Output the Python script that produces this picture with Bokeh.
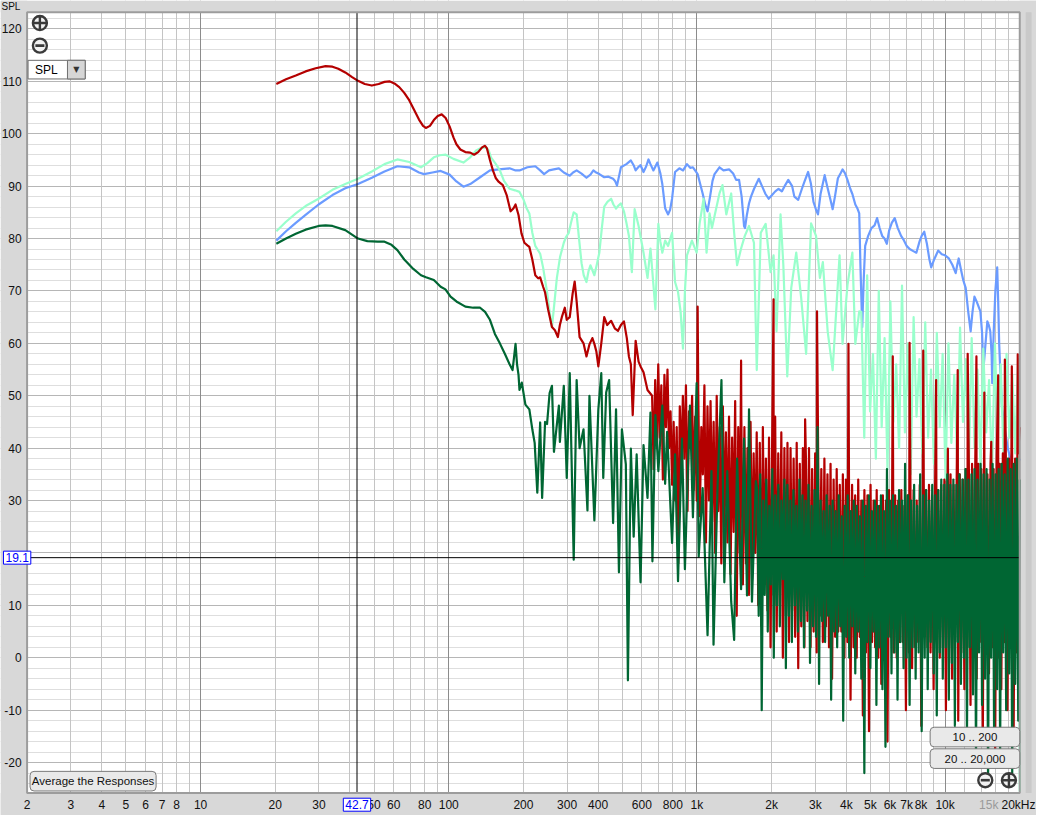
import numpy as np
from bokeh.plotting import figure
from bokeh.models import FixedTicker, Label, BoxAnnotation, Grid
from bokeh.core.properties import value
from bokeh.embed import file_html
from bokeh.resources import INLINE

FONT = "Liberation Sans"

# ---------------- axis data ----------------
x_ticks = [2, 3, 4, 5, 6, 7, 8, 10, 20, 30, 50, 60, 80, 100, 200, 300, 400, 600, 800,
           1000, 2000, 3000, 4000, 5000, 6000, 7000, 8000, 10000, 15000]
x_tick_labels = ["2", "3", "4", "5", "6", "7", "8", "10", "20", "30", "50", "60", "80", "100",
                 "200", "300", "400", "600", "800", "1k", "2k", "3k", "4k", "5k", "6k", "7k",
                 "8k", "10k", "15k"]
x_last_label = "20kHz"
y_ticks = [-20, -10, 0, 10, 30, 40, 50, 60, 70, 80, 90, 100, 110, 120]
y_tick_labels = ["-20", "-10", "0", "10", "30", "40", "50", "60", "70", "80", "90",
                 "100", "110", "120"]
cursor_freq = 42.7
cursor_db = 19.1

# ---------------- series data (frequency Hz, SPL dB) ----------------
blue = [(20.2, 79.6), (22.1, 81.4), (24.2, 83.0), (26.5, 84.5), (29.9, 86.5), (34.0, 88.3),
        (38.3, 89.6), (43.1, 90.4), (49.0, 91.6), (55.1, 92.8), (62.1, 93.8), (69.3, 93.6),
        (75.9, 92.6), (79.5, 92.3), (86, 92.6), (92.8, 92.9), (100.8, 92.2), (107.4, 90.9),
        (114.6, 89.9), (122.1, 90.4), (133.8, 91.7), (146.6, 93.0), (159.2, 93.2), (175.9, 93.4),
        (185.9, 93.0), (192.8, 93.0), (207.5, 93.6), (223.3, 93.8), (233.6, 93.0), (242.3, 92.3),
        (253.6, 93.0), (265, 93.2), (277.9, 93.4), (290.9, 92.6), (307.4, 92.0), (317, 92.6),
        (327.7, 93.0), (343, 92.4), (359.0, 91.6), (372.4, 92.2), (382.8, 93.0), (393, 92.6),
        (404.5, 92.3), (423.3, 91.7), (440, 91.8), (459.6, 91.4), (468, 91.0), (476.6, 90.1),
        (494.3, 93.6), (520, 94.2), (542.0, 94.9), (556, 94.0), (566.5, 93.0), (580, 93.6),
        (592.9, 94.0), (609.5, 92.7), (625, 93.8), (638.3, 95.1), (650, 94.2), (668.1, 93.0),
        (693.1, 94.5), (712, 92.5), (725.6, 90.4), (744.8, 85.8), (765.7, 84.6), (780, 85.5),
        (794.4, 87.6), (816.6, 92.7), (850, 93.4), (880, 93.0), (912.0, 94.2), (940, 93.5),
        (963.9, 93.6), (990, 92.8), (1007, 92.3), (1030, 90.5), (1055, 88.6), (1080, 86.5),
        (1104, 85.2), (1130, 88.0), (1156, 91.0), (1178, 92.3), (1233, 93.6), (1280, 93.0),
        (1350, 93.2), (1400, 92.4), (1439, 91.2), (1479, 91.2), (1515, 88.0), (1549, 82.4),
        (1563, 82.0), (1590, 84.5), (1622, 86.7), (1652, 88.0), (1700, 89.5), (1776, 91.4),
        (1830, 90.0), (1890, 88.5), (1946, 87.6), (2000, 88.2), (2070, 89.0), (2133, 89.5),
        (2200, 89.0), (2270, 90.2), (2335, 91.2), (2420, 90.0), (2470, 88.0), (2561, 87.4),
        (2650, 89.5), (2720, 91.0), (2807, 92.7), (2880, 90.5), (2950, 87.0), (3021, 85.5),
        (3076, 84.6), (3150, 88.5), (3273, 92.1), (3350, 90.0), (3450, 87.5), (3524, 85.6),
        (3600, 88.0), (3700, 91.5), (3800, 92.5), (3863, 93.2), (3950, 92.5), (4044, 91.2),
        (4150, 89.5), (4232, 88.5), (4349, 86.5), (4430, 85.8), (4510, 84.8), (4560, 75.0),
        (4636, 63.1), (4700, 72.0), (4766, 78.6), (4900, 80.5), (5050, 82.0), (5200, 82.5),
        (5322, 83.9), (5450, 82.0), (5580, 80.5), (5700, 80.0), (5826, 79.0), (5950, 81.5),
        (6100, 83.0), (6269, 83.9), (6450, 82.0), (6650, 80.5), (6800, 79.8), (6998, 78.6),
        (7200, 78.0), (7450, 77.6), (7662, 77.3), (7900, 79.5), (8050, 80.5), (8244, 81.3),
        (8450, 79.0), (8650, 76.0), (8793, 74.5), (9000, 75.8), (9200, 76.8), (9378, 77.7),
        (9700, 77.0), (10000, 76.8), (10360, 76.2), (10700, 75.0), (11040, 73.4), (11200, 75.0),
        (11350, 76.2), (11600, 74.0), (11850, 72.0), (12110, 70.6), (12400, 66.0), (12680, 62.3),
        (12900, 66.0), (13135, 68.9), (13400, 68.0), (13650, 67.0), (13880, 66.1), (14100, 62.0),
        (14265, 54.9), (14500, 59.0), (14804, 64.2), (15000, 63.5), (15213, 62.3), (15400, 58.0),
        (15495, 52.4), (15700, 62.0), (15950, 70.0), (16222, 74.5), (16372, 68.0), (16525, 59.9),
        (16750, 53.0), (16987, 47.4), (17420, 43.6), (17900, 40.0), (18580, 36.9), (19300, 36.0),
        (20000, 38.0)]

mint_lf = [(20.2, 81.4), (22.1, 83.2), (24.2, 84.8), (26.5, 86.2), (29.9, 87.6), (34.0, 89.3),
           (38.3, 90.4), (43.1, 91.4), (49.0, 92.8), (55.1, 94.2), (62.1, 95.1), (69.3, 94.6),
           (77.3, 93.6), (82, 94.4), (87.1, 95.5), (92, 95.9), (97.2, 96.0), (104.5, 95.2),
           (114.6, 94.5), (122.1, 95.5), (129.0, 96.8), (135, 97.3), (141.4, 97.4), (145, 96.8),
           (148.0, 95.5), (154.9, 94.2), (160.7, 93.0), (167, 91.0), (175.9, 89.5), (185, 89.2),
           (192.8, 88.9), (200, 87.5), (206, 85.8), (211.3, 84.8), (217.2, 81.1), (223.3, 78.6),
           (233.6, 77.1), (240, 74.5), (249.0, 69.8), (255, 66.0), (260.6, 63.1), (265, 66.5),
           (272.8, 72.5), (281, 76.5), (290.9, 79.2), (297, 80.3), (304.6, 81.1), (311, 83.0),
           (318.9, 85.0), (327.7, 84.6), (335, 80.0), (343.0, 75.3), (350, 73.0), (359.0, 71.7),
           (366, 73.8), (372.4, 74.9), (379, 74.0), (386.3, 73.0), (395, 75.0), (404.5, 77.3),
           (414, 82.0), (423.3, 86.1), (436, 87.0), (451.2, 87.6), (461, 86.5), (472.3, 85.7),
           (483, 86.3), (494.3, 86.7), (508.2, 85.2), (520, 83.0), (532.2, 80.5), (547.0, 73.6),
           (561.3, 85.6), (582.2, 82.4), (609.5, 77.3), (632.5, 72.5), (650.1, 78.1), (680.5, 66.5),
           (699.5, 82.8), (712, 79.5), (725.6, 77.3), (744.8, 79.6), (765.7, 78.6), (794.4, 81.1),
           (816.6, 71.7), (839.4, 69.8), (860, 66.0), (878.9, 59.0), (895, 70.0), (912.0, 76.8),
           (955.0, 79.6), (997.7, 77.3), (1026, 82.9), (1064, 87.6), (1094, 77.3), (1125, 84.8),
           (1150, 82.0), (1178, 84.3), (1233, 88.6), (1268, 90.2), (1314, 84.6), (1375, 88.6),
           (1413, 81.1), (1452, 74.9), (1507, 78.1), (1560, 80.5), (1622, 82.4), (1698, 79.2),
           (1743, 54.9), (1809, 81.1), (1893, 82.8), (1982, 73.6), (2037, 76.8), (2094, 62.3),
           (2173, 84.6), (2230, 75.0), (2313, 53.7), (2400, 70.6), (2514, 77.3), (2632, 68.7),
           (2756, 58.0), (2885, 82.9), (3021, 80.5), (3131, 72.5), (3218, 75.5), (3365, 62.3),
           (3524, 54.9), (3758, 76.8), (3863, 59.9), (4044, 71.1), (4232, 77.3), (4349, 59.9),
           (4510, 66.1)]
mint_hf_db = [66, 42, 73, 47, 58, 38, 70, 44, 61, 36,
              68, 45, 56, 40, 71, 43, 60, 35, 65, 46,
              57, 39, 64, 42, 55, 37, 62, 44, 58, 34,
              60, 41, 54, 38, 63, 45, 57, 36, 61, 40,
              55, 37, 59, 43, 53, 35, 60, 41, 56, 38,
              58, 42, 54, 39, 57]
mint_end = [(20000, -25.5)]

red_lf = [(20.2, 109.5), (22.1, 110.4), (24.2, 111.1), (26.5, 111.9), (29.1, 112.5), (31.9, 112.9),
          (34.0, 112.8), (35.9, 112.4), (38.3, 111.7), (40.8, 110.8), (43.1, 110.1), (45.9, 109.5),
          (49.0, 109.2), (52.2, 109.5), (55.1, 109.9), (57.7, 110.0), (60.4, 109.6), (63.2, 108.9),
          (66.2, 107.8), (69.3, 106.4), (72.5, 104.6), (75.9, 102.7), (78.8, 101.5), (80.9, 101.1),
          (84.0, 101.5), (87.1, 102.6), (90.3, 103.4), (93.7, 103.7), (97.2, 103.0), (100.8, 101.4),
          (104.5, 99.3), (107.4, 98.0), (111.4, 97.0), (116.7, 96.5), (122.1, 96.4), (126.6, 96.0),
          (131.4, 96.5), (136.3, 97.4), (140.1, 97.7), (142.6, 97.2), (146.6, 95.0), (150.7, 93.0),
          (154.9, 91.5), (159.2, 90.8), (165.2, 90.2), (171.2, 88.3), (177.5, 85.2), (182.5, 85.8),
          (185.9, 86.5), (191.1, 84.5), (196.4, 81.0), (201.8, 79.2), (207.5, 78.7), (211.3, 78.4),
          (217.2, 76.0), (223.3, 73.0), (229.4, 72.4), (233.6, 72.6), (240.1, 70.8), (244.5, 69.7),
          (251.4, 66.5), (260.6, 63.1), (267.9, 62.5), (275.3, 61.2), (280.5, 63.5), (285.6, 65.0),
          (293.6, 66.8), (299.0, 64.5), (307.4, 65.0), (315.7, 69.5), (321.8, 71.8), (327.7, 68.0),
          (336.8, 61.2), (349.3, 60.0), (359.0, 57.5), (369.0, 59.8), (379.2, 61.0), (386.3, 59.9),
          (393.3, 58.5), (400.8, 55.6), (411.9, 60.0), (423.3, 65.0), (435.1, 63.5), (451.2, 64.3),
          (467.8, 62.8), (481.0, 62.4), (494.3, 63.5), (508.2, 64.2), (522.0, 61.0), (532.2, 57.5),
          (542.0, 56.0), (551.4, 46.3), (566.5, 60.5), (582.2, 56.5), (592.9, 55.6), (609.5, 54.5),
          (632.5, 51.1)]
red_hf_db = [50, 36, 53, 40, 56, 42, 52, 34, 54, 44,
             55, 40, 47, 33, 45, 30, 44, 18, 48, 36,
             50, 38, 52, 28, 47, 40, 50, 32, 46, 30,
             51, 27, 44, 35, 52, 22, 48, 30, 49, 26,
             45, 20, 50, 28, 44, 18, 48, 25, 43, 22,
             46, 16, 42, 24, 49, 8, 44, 20, 46, 14,
             44, 18, 40, 12, 45, 15, 39, 20, 43, 10,
             41, 6, 44, 14, 38, 9, 42, 2, 40, 12,
             46, 5, 39, 10, 43, 0, 40, 8, 41, 3,
             40, 9, 38, 4, 41, -2, 37, 6, 40, 2,
             38, 7, 40, 2, 36, 5, 39, 1, 37, 8,
             36, 3, 38, 6, 35, 2, 37, -4, 34, 4,
             36, 5, 33, 5, 35, 0, 34, 3, 32, -8,
             33, 2, 31, 0, 34, 4, 30, -11, 32, 1,
             31, -14, 33, 3, 30, 2, 32, 0, 29, -5,
             31, 2, 30, -16, 32, 4, 29, 1, 31, 0,
             30, 3, 32, 3, 29, -10, 31, 1, 30, -2,
             32, 2, 30, 3, 33, -13, 31, 4, 32, 2,
             33, 1, 31, -6, 34, 3, 32, 0, 33, 2,
             34, -10, 32, 2, 35, -4, 33, 3, 34, -12,
             35, 1, 34, -6, 36, 2, 34, -9, 37, 0,
             35, -4, 37, 3, 36, -15, 38, 1, 35, -3,
             37, 2, 36, -18, 38, 0, 37, -6, 39, 3,
             37, -10, 38, 2, 40, -16, 38, 1, 39, 44]
red_spikes = [(1007, 67.0), (1507, 56.7), (2037, 68.4), (2730, 45.5), (3048, 66.1), (4081, 59.9),
              (6157, 57.5), (7195, 60.1), (8168, 58.6), (9206, 53.0), (10265, 39.9), (11247, 54.9),
              (12337, 58.0), (13380, 57.5), (14398, 50.6), (15353, 41.2), (16372, 53.9),
              (17420, 56.9), (18580, 55.6), (19630, 57.9)]

green_lf = [(20.2, 79.0), (22.1, 80.0), (24.2, 80.9), (26.5, 81.7), (29.9, 82.4), (31.9, 82.5),
            (34.0, 82.4), (38.3, 81.6), (43.1, 80.0), (47, 79.5), (51.7, 79.4), (55.1, 79.4),
            (58.8, 78.8), (62.1, 77.8), (66.2, 76.0), (72, 74.2), (77.3, 73.0), (81, 72.6),
            (87.1, 72.1), (92.8, 70.8), (97, 70.3), (101.7, 68.9), (107.4, 68.0), (116.7, 67.0),
            (125.6, 66.8), (133.8, 66.8), (140.1, 66.0), (146.6, 64.5), (153.5, 61.8), (160.7, 60.0),
            (168.3, 58.0), (175.9, 56.0), (180.8, 54.9), (183.5, 57.5), (185.9, 59.9), (188.5, 56.0),
            (191.1, 54.0), (192.8, 51.1), (197, 52.5), (203.7, 48.3), (211.3, 47.4), (217.2, 43.6),
            (222, 41.0), (227.5, 31.5), (233.6, 44.9), (237.9, 30.5), (244.5, 45.0), (249.0, 44.6),
            (255, 50.5), (260.6, 51.9), (265.5, 39.3), (277.9, 48.1), (280.5, 41.2), (290.9, 51.9),
            (299.0, 34.3), (307.4, 54.3), (318.9, 18.7), (327.7, 53.0), (336.8, 40.0), (349.3, 43.6),
            (362.3, 28.1), (369.0, 50.0), (386.3, 26.2), (400.8, 47.4), (411.9, 54.3), (419.5, 34.3),
            (431, 50.6), (443, 53.0), (459.6, 25.7), (472.3, 47.4), (485.2, 16.3), (498.7, 43.6),
            (517.3, 36.9), (527.3, -4.3), (542.0, 39.9), (556.2, 23.1), (571.9, 38.8), (592.9, 14.4),
            (609.5, 40.6), (632.5, 30.5), (650.1, 46.8), (662.0, 18.4), (680.5, 46.3), (699.5, 35.6),
            (725.6, 48.1), (744.8, 33.2), (758.7, 43.1), (794.4, 21.9), (816.6, 38.8), (839.4, 14.6),
            (870.9, 41.8), (894.8, 16.9), (912.0, 30.0), (937.6, 48.1), (963.9, 26.8), (997.7, 52.4),
            (1017, 19.3), (1055, 32.4), (1104, 4.3), (1145, 35.6), (1167, 2.5), (1211, 32.4),
            (1256, 53.0), (1290, 14.4), (1326, 35.6), (1375, 10.7), (1413, 3.4), (1452, 38.0),
            (1507, 13.1), (1549, 41.8), (1592, 11.9), (1622, 47.4), (1667, 10.7), (1728, 33.7)]
green_hf_db = [32, 8, 35, -10, 30, 12, 34, 5, 29, 14,
               36, 0, 31, 10, 33, 6, 30, 15, 34, -2,
               33, 8, 30, 3, 32, 10, 29, 5, 34, 7,
               31, 2, 30, 9, 33, -1, 29, 6, 32, 4,
               44, -5, 30, 7, 28, 3, 31, 8, 29, -8,
               30, 5, 28, 2, 31, 6, 27, -12, 29, 4,
               31, 0, 28, 6, 30, -3, 29, 5, 27, -4,
               30, -22, 29, 3, 31, -2, 28, 5, 30, -9,
               29, 2, 31, -6, 28, -17, 36, 4, 30, -3,
               31, 1, 29, -8, 32, 3, 30, -2, 37, 0,
               31, -9, 30, 2, 33, -4, 29, 1, 35, -14,
               31, 0, 32, -6, 30, 3, 33, -3, 31, -11,
               32, 1, 34, -4, 33, 2, 35, -8, 33, -1,
               34, -13, 33, 3, 35, -5, 34, 0, 36, -16,
               34, 2, 35, -7, 36, -20, 34, 1, 37, -9,
               35, -4, 36, -24, 34, 0, 37, -15, 35, -6,
               36, -18, 37, 1, 35, -10, 38, -3, 36, -22,
               37, -5, 38, -12, 34]


def build(pairs, f_lo=None, f_hi=None, grid_vals=(), extra=()):
    pts = list(pairs)
    if len(grid_vals):
        fs = np.geomspace(f_lo, f_hi, len(grid_vals))
        pts += list(zip(fs, grid_vals))
    pts += list(extra)
    pts.sort(key=lambda t: t[0])
    return [t[0] for t in pts], [t[1] for t in pts]


blue_f, blue_db = build(blue)
mint_f, mint_db = build(mint_lf, 4600, 19700, mint_hf_db, mint_end)
red_f, red_db = build(red_lf, 660, 20000, red_hf_db, red_spikes)
green_f, green_db = build(green_lf, 1750, 20000, green_hf_db)


# ---------------- layout helpers (reference pixels -> data; UI placement only) ----------------
def X(px):
    return 2 * 10 ** ((px - 27) / 252.0)


def Y(py):
    return 120 - (py - 29) / 5.343


PLOT_TOP = Y(12)
PLOT_BOT = Y(808)
F_LO, F_HI = 2, 20000
BG = "#d8d8d8"

p = figure(width=1036, height=815, x_axis_type="log", x_axis_location=None, y_axis_location=None,
           x_range=(X(0), X(1052)), y_range=(Y(831), Y(0)), output_backend="svg",
           toolbar_location=None, min_border=0, min_border_left=0, min_border_right=0,
           min_border_top=0, min_border_bottom=0, background_fill_color="white",
           border_fill_color=BG, outline_line_color=None)
for g in p.grid:
    g.visible = False

# grids
decades = [10, 100, 1000, 10000]
minor_x = [m * 10 ** k for k in range(0, 4) for m in range(2, 10)] + [12000, 14000, 16000, 18000]
minor_x = [v for v in minor_x if v not in decades and v > 2]
p.add_layout(Grid(dimension=1, ticker=FixedTicker(ticks=[v for v in range(-24, 124, 2) if v % 10]),
                  grid_line_color="#dedede"))
p.add_layout(Grid(dimension=1, ticker=FixedTicker(ticks=list(range(-20, 130, 10))),
                  grid_line_color="#b6b6b6"))
p.add_layout(Grid(dimension=0, ticker=FixedTicker(ticks=minor_x), grid_line_color="#c4c4c4"))
p.add_layout(Grid(dimension=0, ticker=FixedTicker(ticks=decades), grid_line_color="#8c8c8c"))

# gray surround (covers grid outside the plot area)
for kw in [dict(right=F_LO), dict(left=F_HI), dict(bottom=PLOT_TOP), dict(top=PLOT_BOT)]:
    p.add_layout(BoxAnnotation(level="underlay", fill_color=BG, fill_alpha=1, line_color=None, **kw))
p.add_layout(BoxAnnotation(level="underlay", left=X(1041), right=X(1047), top=PLOT_TOP,
                           bottom=PLOT_BOT, fill_color="#c9c9c9", fill_alpha=1, line_color=None))

# tick labels
p.text(x=x_ticks, y=[Y(820)] * len(x_ticks), text=x_tick_labels, text_align="center",
       text_baseline="middle", text_font=value(FONT), text_font_size="12px",
       text_color=["#9a9a9a" if t == 15000 else "#111111" for t in x_ticks])
p.text(x=[X(1051)], y=[Y(820)], text=[x_last_label], text_align="right", text_baseline="middle",
       text_font=value(FONT), text_font_size="12px", text_color="#111111")
p.text(x=[X(21.5)] * len(y_ticks), y=y_ticks, text=y_tick_labels, text_align="right",
       text_baseline="middle", text_font=value(FONT), text_font_size="12px", text_color="#111111")
p.text(x=[X(1)], y=[Y(0.5)], text=["SPL"], text_align="left", text_baseline="top",
       text_font=value(FONT), text_font_size="10px", text_color="#111111")

# curves
lw = 2.2
p.line(blue_f, blue_db, line_color="#6b9bff", line_width=lw, line_join="round")
p.line(mint_f, mint_db, line_color="#99ffcc", line_width=lw, line_join="round")
p.line(red_f, red_db, line_color="#b40000", line_width=lw, line_join="round")
p.line(green_f, green_db, line_color="#006633", line_width=lw, line_join="round")

# cursor lines
p.segment(x0=[cursor_freq], y0=[PLOT_BOT], x1=[cursor_freq], y1=[PLOT_TOP], line_color="black",
          line_width=1)
p.segment(x0=[X(25)], y0=[cursor_db], x1=[F_HI], y1=[cursor_db], line_color="black", line_width=1)

# plot frame border
p.add_layout(BoxAnnotation(left=F_LO, right=F_HI, bottom=PLOT_BOT, top=PLOT_TOP, fill_alpha=0,
                           line_color="#9c9c9c", line_alpha=1, line_width=2))

# zoom icons
icon = "#3a3a3a"
for (ix, iy, plus) in [(40, 23, True), (40, 46, False), (1000, 795, False), (1024, 795, True)]:
    if plus:
        p.scatter([X(ix)], [Y(iy)], marker="circle_cross", size=14, line_width=2.4,
                  line_color=icon, fill_color="#f2f2f2")
    else:
        p.scatter([X(ix)], [Y(iy)], marker="circle", size=14, line_width=2.4,
                  line_color=icon, fill_color="#f2f2f2")
        p.scatter([X(ix)], [Y(iy)], marker="dash", size=9, line_width=2.6, line_color=icon)

# cursor value boxes
p.add_layout(Label(x=cursor_freq, y=Y(820), text=f"{cursor_freq}", text_align="center",
                   text_baseline="middle", text_color="#0000ff", text_font=FONT,
                   text_font_size="12px", background_fill_color="white",
                   border_line_color="#0000ff", padding=2))
p.add_layout(Label(x=X(3), y=cursor_db, text=f"{cursor_db}", text_align="left",
                   text_baseline="middle", text_color="#0000ff", text_font=FONT,
                   text_font_size="12px", background_fill_color="white",
                   border_line_color="#0000ff", padding=2))

# SPL dropdown
p.add_layout(BoxAnnotation(left=X(28), right=X(86), top=Y(61), bottom=Y(80), fill_color="white",
                           fill_alpha=1, line_color="#6e6e6e", line_alpha=1, line_width=1))
p.add_layout(BoxAnnotation(left=X(68), right=X(86), top=Y(61), bottom=Y(80), fill_color="#d6d6d6",
                           fill_alpha=1, line_color="#6e6e6e", line_alpha=1, line_width=1))
p.add_layout(Label(x=X(35), y=Y(71), text="SPL", text_align="left", text_baseline="middle",
                   text_font=FONT, text_font_size="12px", text_color="#000000"))
p.add_layout(Label(x=X(77), y=Y(70.5), text="▼", text_align="center", text_baseline="middle",
                   text_font="DejaVu Sans", text_font_size="8px", text_color="#333333"))

# buttons
for (l, r, t, b, txt) in [(30, 158, 786, 806, "Average the Responses"),
                          (944, 1035, 741, 761, "10 .. 200"),
                          (944, 1035, 763, 783, "20 .. 20,000")]:
    p.add_layout(BoxAnnotation(left=X(l), right=X(r), top=Y(t), bottom=Y(b), fill_color="#e9e9e9",
                               fill_alpha=1, line_color="#7a7a7a", line_alpha=1, line_width=1,
                               border_radius=4))
    p.add_layout(Label(x=X((l + r) / 2), y=Y((t + b) / 2), text=txt, text_align="center",
                       text_baseline="middle", text_font=FONT, text_font_size="11.5px",
                       text_color="#111111"))

open("out.html", "w").write(file_html(p, INLINE))
